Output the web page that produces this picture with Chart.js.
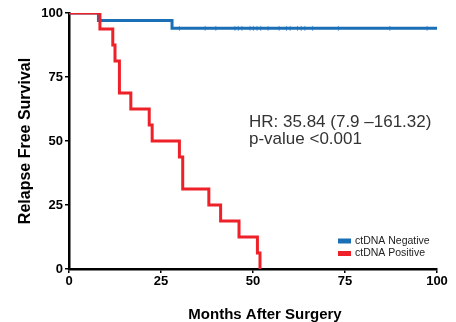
<!DOCTYPE html>
<html>
<head>
<meta charset="utf-8">
<script src="https://cdn.jsdelivr.net/npm/chart.js@4.4.1/dist/chart.umd.min.js"></script>
<style>
  html, body { margin: 0; padding: 0; background: #fff; }
  #wrap { width: 456px; height: 322px; }
</style>
</head>
<body>
<div id="wrap"><canvas id="km"></canvas></div>
<script>
// Kaplan-Meier steps: survival value after each event time
var negTimes = [0, 8, 28, 100];
var negSurv = [100, 97.1, 94, 94];
var posTimes = [0, 8.4, 11.9, 12.5, 13.7, 16.8, 21.8, 22.6, 30.0, 30.9, 38.0, 41.2, 46.2, 51.2, 51.9];
var posSurv = [100, 93.75, 87.5, 81.25, 68.75, 62.5, 56.25, 50, 43.75, 31.25, 25, 18.75, 12.5, 6.25, 0];
// censored follow-up in the ctDNA negative group
var censorTimes = [30, 37, 39.9, 45.1, 46, 47, 49.2, 50.1, 51.1, 52.1, 54.1, 57.1, 59.1, 60.1, 62.1, 63.1, 64.1, 66.2, 73.2, 87.2, 97.3];
var xTicks = [0, 25, 50, 75, 100];
var yTicks = [0, 25, 50, 75, 100];
var xTitle = 'Months After Surgery';
var statLines = ['HR: 35.84 (7.9 \u2013161.32)', 'p-value <0.001'];
var legendLabels = ['ctDNA Negative', 'ctDNA Positive'];

var BLUE = '#1b6fb6';
var RED = '#ee2128';
var FONT = '"Liberation Sans", Arial, sans-serif';

function toPoints(xs, ys) {
    return xs.map(function (x, i) { return {x: x, y: ys[i]}; });
}

function lastSurv(t) {
    var s = negSurv[0];
    for (var i = 0; i < negTimes.length; i++) {
        if (negTimes[i] <= t) s = negSurv[i];
    }
    return s;
}

// HR / p-value note, small legend inside the plot, x axis caption (sits a bit right of center)
var notesPlugin = {
    id: 'notes',
    afterDraw: function (chart) {
        var ctx = chart.ctx;
        ctx.save();
        ctx.fillStyle = '#333';
        ctx.font = '17px ' + FONT;
        ctx.textBaseline = 'alphabetic';
        ctx.textAlign = 'left';
        statLines.forEach(function (t, i) {
            ctx.fillText(t, 249, 126.5 + i * 17.5);
        });

        ctx.fillStyle = '#000';
        ctx.font = 'bold 15px ' + FONT;
        ctx.textAlign = 'center';
        ctx.fillText(xTitle, 265, 318.5);

        var colors = [BLUE, RED];
        ctx.font = '10.5px ' + FONT;
        ctx.textAlign = 'left';
        ctx.textBaseline = 'middle';
        legendLabels.forEach(function (t, i) {
            var y = 241 + i * 12.5;
            ctx.fillStyle = colors[i];
            ctx.fillRect(338, y - 2.5, 13, 5);
            ctx.fillStyle = '#222';
            ctx.fillText(t, 355, y);
        });
        ctx.restore();
    }
};

new Chart(document.getElementById('km'), {
    type: 'line',
    data: {
        datasets: [
            {
                label: legendLabels[1],
                data: toPoints(posTimes, posSurv),
                borderColor: RED,
                borderWidth: 3,
                stepped: true,
                pointRadius: 0
            },
            {
                label: legendLabels[0],
                data: toPoints(negTimes, negSurv),
                borderColor: BLUE,
                borderWidth: 3,
                stepped: true,
                pointRadius: 0
            },
            {
                label: 'censored',
                type: 'scatter',
                data: censorTimes.map(function (t) { return {x: t, y: lastSurv(t)}; }),
                pointStyle: 'line',
                rotation: 90,
                pointRadius: 2.5,
                borderColor: '#6aa6e0',
                borderWidth: 1
            }
        ]
    },
    options: {
        responsive: true,
        maintainAspectRatio: false,
        animation: false,
        layout: { padding: { top: 13, right: 19, left: 0, bottom: 0 } },
        plugins: {
            legend: { display: false },
            tooltip: { enabled: false }
        },
        scales: {
            x: {
                type: 'linear',
                min: 0,
                max: 100,
                afterBuildTicks: function (axis) {
                    axis.ticks = xTicks.map(function (v) { return {value: v}; });
                },
                afterFit: function (axis) { axis.height = 53; },
                grid: { drawOnChartArea: false, tickLength: 4, color: '#000', lineWidth: 1.5 },
                border: { color: '#000', width: 2.5 },
                ticks: {
                    color: '#000',
                    padding: 1,
                    maxRotation: 0,
                    font: { family: FONT, size: 13, weight: 'bold' }
                }
            },
            y: {
                type: 'linear',
                min: 0,
                max: 100,
                afterBuildTicks: function (axis) {
                    axis.ticks = yTicks.map(function (v) { return {value: v}; });
                },
                afterFit: function (axis) { axis.width = 69; },
                grid: { drawOnChartArea: false, tickLength: 4, color: '#000', lineWidth: 1.5 },
                border: { color: '#000', width: 2.5 },
                ticks: {
                    color: '#000',
                    padding: 2,
                    font: { family: FONT, size: 13, weight: 'bold' }
                },
                title: {
                    display: true,
                    text: 'Relapse Free Survival',
                    color: '#000',
                    padding: { top: 16, bottom: 0 },
                    font: { family: FONT, size: 16, weight: 'bold' }
                }
            }
        }
    },
    plugins: [notesPlugin]
});
</script>
</body>
</html>
